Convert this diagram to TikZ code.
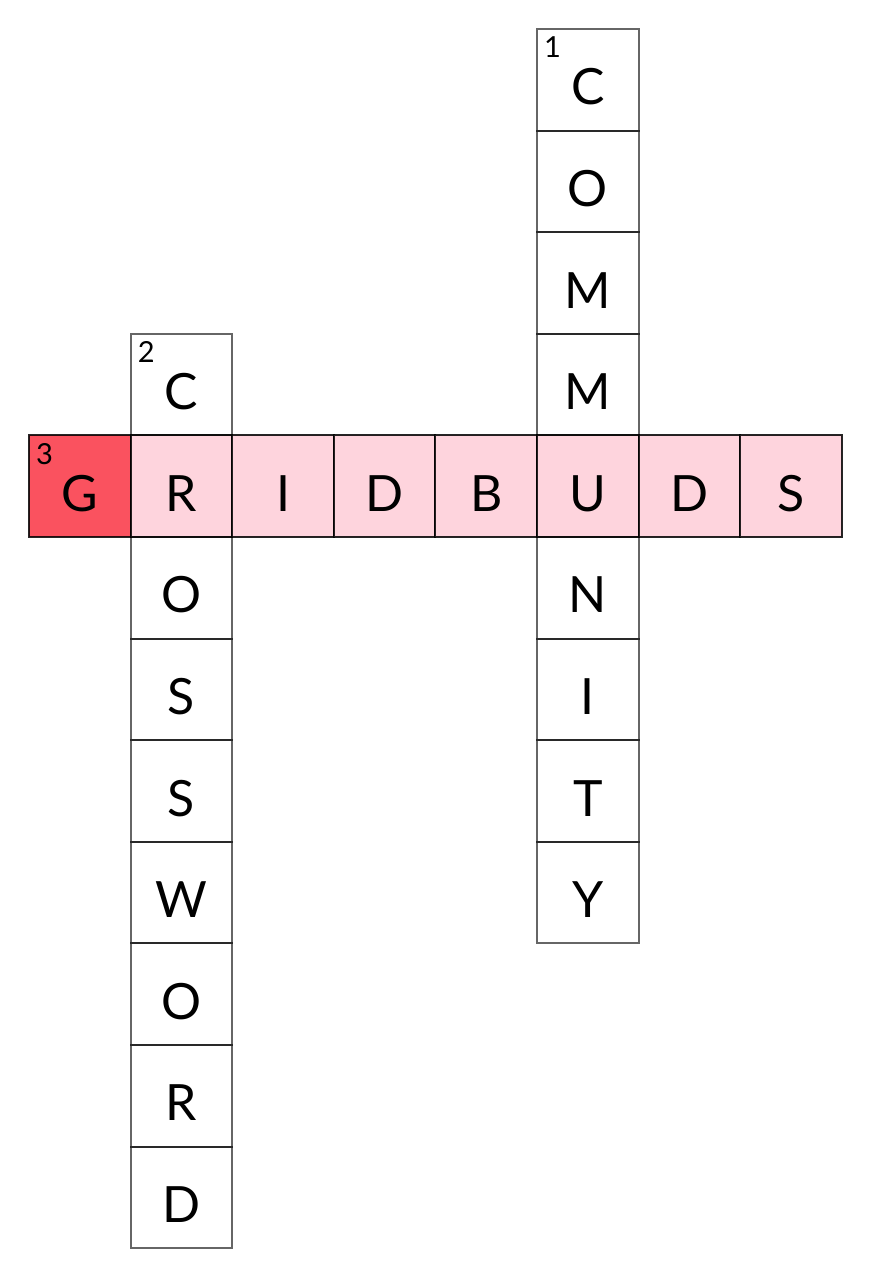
\documentclass[tikz,border=0pt]{standalone}
\usepackage{fontspec}
\setmainfont{Lato}
\usepackage{tikz}
\definecolor{gridpink}{RGB}{254,212,221}
\definecolor{gridred}{RGB}{250,82,95}

\begin{document}
\begin{tikzpicture}[x=101.6pt,y=-101.6pt,
  cell/.style={draw=black,draw opacity=.6,line width=2pt,minimum size=101.6pt,
    inner sep=0pt,text height=50pt,text depth=0pt,font=\fontsize{50}{50}\selectfont},
  across/.style={cell,draw opacity=.85,fill=gridpink},
  num/.style={anchor=base west,inner sep=0pt,font=\fontsize{29}{29}\selectfont}]
\useasboundingbox (-29pt,29pt) rectangle (841pt,-1247pt);
% 3 across
\node[across,fill=gridred] (three1) at (0.5,4.5) {G};
\node[across] (three2) at (1.5,4.5) {R};
\node[across] (three3) at (2.5,4.5) {I};
\node[across] (three4) at (3.5,4.5) {D};
\node[across] (three5) at (4.5,4.5) {B};
\node[across] (three6) at (5.5,4.5) {U};
\node[across] (three7) at (6.5,4.5) {D};
\node[across] (three8) at (7.5,4.5) {S};
% 1 down
\node[cell] (one1) at (5.5,0.5) {C};
\node[cell] (one2) at (5.5,1.5) {O};
\node[cell] (one3) at (5.5,2.5) {M};
\node[cell] (one4) at (5.5,3.5) {M};
%\node[cell] (one5) at (5.5,4.5) {U};
\node[cell] (one6) at (5.5,5.5) {N};
\node[cell] (one7) at (5.5,6.5) {I};
\node[cell] (one8) at (5.5,7.5) {T};
\node[cell] (one9) at (5.5,8.5) {Y};
% 2 down
\node[cell] (two1) at (1.5,3.5) {C};
%\node[cell] (two2) at (1.5,4.5) {R};
\node[cell] (two3) at (1.5,5.5) {O};
\node[cell] (two4) at (1.5,6.5) {S};
\node[cell] (two5) at (1.5,7.5) {S};
\node[cell] (two6) at (1.5,8.5) {W};
\node[cell] (two7) at (1.5,9.5) {O};
\node[cell] (two8) at (1.5,10.5) {R};
\node[cell] (two9) at (1.5,11.5) {D};
% clue numbers
\node[num] at ([shift={(8pt,-30pt)}]one1.north west) {1};
\node[num] at ([shift={(8pt,-30pt)}]two1.north west) {2};
\node[num] at ([shift={(8pt,-30pt)}]three1.north west) {3};
\end{tikzpicture}
\end{document}
